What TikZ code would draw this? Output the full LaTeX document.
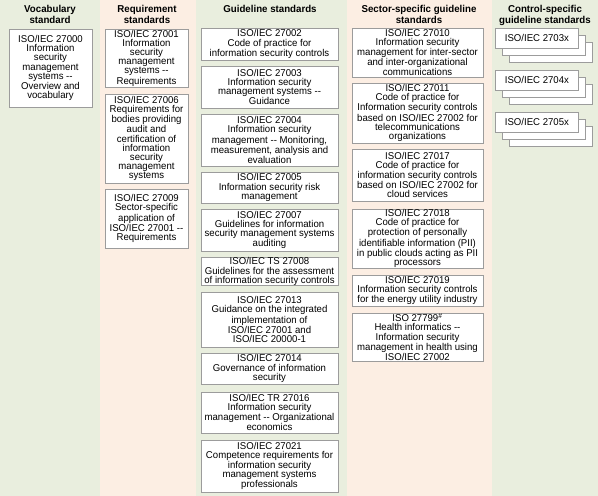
\documentclass[tikz,border=0pt]{standalone}
\usepackage{fontspec}
\setmainfont{Liberation Sans}[FakeStretch=0.97]
\definecolor{colg}{HTML}{E9EEDE}
\definecolor{colp}{HTML}{FCEEE3}
\definecolor{bordergray}{HTML}{9C9C9C}
\tikzset{
  stdb/.style={draw=bordergray, line width=0.8pt, fill=white, align=center, inner sep=0pt,
    font=\fontsize{9.9}{9.2}\selectfont},
  hdr/.style={align=center, anchor=north, inner sep=0pt, font=\fontsize{10}{9.3}\selectfont\bfseries},
}
\newcommand\stdbox[6]{\node[stdb, minimum width={(#4-#2)*1pt}, minimum height={(#5-#3)*1pt}] (#1) at ({(#2+#4)/2},{(#3+#5)/2}) {#6};}
\newcommand\stackbox[4]{%
  \node[stdb, minimum width=83pt, minimum height=20pt, anchor=north west] (#1c) at ({#2+14},{#3+14}) {};
  \node[stdb, minimum width=83pt, minimum height=20pt, anchor=north west] (#1b) at ({#2+7},{#3+7}) {};
  \node[stdb, minimum width=83pt, minimum height=20pt, anchor=north west] (#1) at (#2,#3) {#4};}
\newcommand\dd{\mbox{-}\mbox{-}}
\begin{document}
\begin{tikzpicture}[x=1pt,y=-1pt]
\useasboundingbox (0,0) rectangle (598,496);
% columns
\fill[colg] (0,0) rectangle (100,496);
\fill[colp] (100,0) rectangle (196,496);
\fill[colg] (196,0) rectangle (347,496);
\fill[colp] (347,0) rectangle (492,496);
\fill[colg] (492,0) rectangle (598,496);
% headers
\node[hdr] (h1) at (50,5.5) {Vocabulary\\standard};
\node[hdr] (h2) at (147,5.5) {Requirement\\standards};
\node[hdr] (h3) at (270,5.5) {Guideline standards};
\node[hdr] (h4) at (419,5.5) {Sector-specific guideline\\standards};
\node[hdr] (h5) at (545,5.5) {Control-specific\\guideline standards};
% vocabulary
\stdbox{v1}{9}{29}{92}{107}{ISO/IEC 27000\\Information\\security\\management\\systems \dd\\Overview and\\vocabulary}
% requirement
\stdbox{r1}{105}{29}{188}{87}{ISO/IEC 27001\\Information\\security\\management\\systems \dd\\Requirements}
\stdbox{r2}{105}{94}{188}{183}{ISO/IEC 27006\\Requirements for\\bodies providing\\audit and\\certification of\\information\\security\\management\\systems}
\stdbox{r3}{105}{189}{188}{248}{ISO/IEC 27009\\Sector-specific\\application of\\ISO/IEC 27001 \dd\\Requirements}
% guideline
\stdbox{g1}{201}{28}{338}{60}{ISO/IEC 27002\\Code of practice for\\information security controls}
\stdbox{g2}{201}{66}{338}{108}{ISO/IEC 27003\\Information security\\management systems \dd\\Guidance}
\stdbox{g3}{201}{114}{338}{166}{ISO/IEC 27004\\Information security\\management \dd\ Monitoring,\\measurement, analysis and\\evaluation}
\stdbox{g4}{201}{172}{338}{203}{ISO/IEC 27005\\Information security risk\\management}
\stdbox{g5}{201}{209}{338}{251}{ISO/IEC 27007\\Guidelines for information\\security management systems\\auditing}
\stdbox{g6}{201}{258}{338}{285}{ISO/IEC TS 27008\\Guidelines for the assessment\\of information security controls}
\stdbox{g7}{201}{292}{338}{347}{ISO/IEC 27013\\Guidance on the integrated\\implementation of\\ISO/IEC 27001 and\\ISO/IEC 20000-1}
\stdbox{g8}{201}{353}{338}{384}{ISO/IEC 27014\\Governance of information\\security}
\stdbox{g9}{201}{392}{338}{433}{ISO/IEC TR 27016\\Information security\\management \dd\ Organizational\\economics}
\stdbox{g10}{201}{440}{338}{492}{ISO/IEC 27021\\Competence requirements for\\information security\\management systems\\professionals}
% sector
\stdbox{s1}{352}{28}{483}{77}{ISO/IEC 27010\\Information security\\management for inter-sector\\and inter-organizational\\communications}
\stdbox{s2}{352}{83}{483}{143}{ISO/IEC 27011\\Code of practice for\\Information security controls\\based on ISO/IEC 27002 for\\telecommunications\\organizations}
\stdbox{s3}{352}{149}{483}{201}{ISO/IEC 27017\\Code of practice for\\information security controls\\based on ISO/IEC 27002 for\\cloud services}
\stdbox{s4}{352}{209}{483}{268}{ISO/IEC 27018\\Code of practice for\\protection of personally\\identifiable information (PII)\\in public clouds acting as PII\\processors}
\stdbox{s5}{352}{275}{483}{306}{ISO/IEC 27019\\Information security controls\\for the energy utility industry}
\stdbox{s6}{352}{313}{483}{361}{ISO 27799\textsuperscript{\#}\\Health informatics \dd\\Information security\\management in health using\\ISO/IEC 27002}
% control-specific
\stackbox{c1}{495}{28}{ISO/IEC 2703x}
\stackbox{c2}{495}{70}{ISO/IEC 2704x}
\stackbox{c3}{495}{112}{ISO/IEC 2705x}
\end{tikzpicture}
\end{document}
